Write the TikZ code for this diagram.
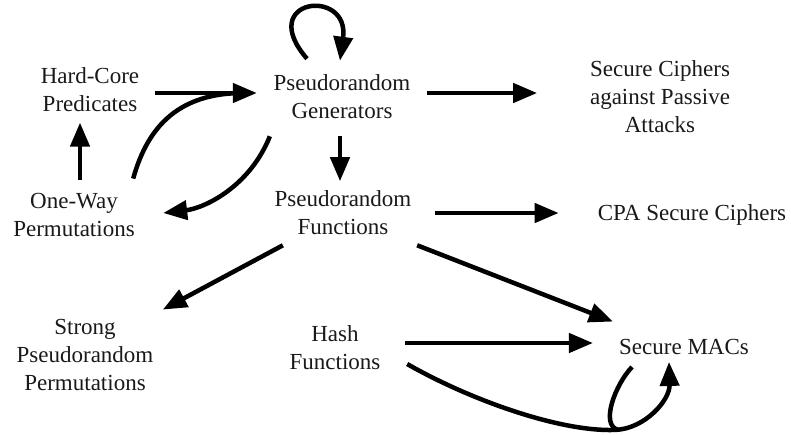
\documentclass[tikz,border=0pt]{standalone}
\usepackage{fontspec}
\setmainfont{Liberation Serif}
\usetikzlibrary{arrows.meta,calc}
\begin{document}
\begin{tikzpicture}[x=1pt,y=-1pt,
  lbl/.style={font=\fontsize{23}{28}\selectfont, align=center, inner sep=0pt, text=black!90},
  conn/.style={line width=4.5pt, -{Triangle[length=24pt,width=19pt]}},
  plain/.style={line width=4.5pt}]
\useasboundingbox (0,0) rectangle (791,434);

\node[lbl] (hc)   at (90,89.3) {Hard-Core\\Predicates};
\node[lbl] (prg)  at (342,97)  {Pseudorandom\\Generators};
\node[lbl] (sc)   at (660,97)  {Secure Ciphers\\against Passive\\Attacks};
\node[lbl] (ow)   at (74,215)  {One-Way\\Permutations};
\node[lbl] (prf)  at (343,213) {Pseudorandom\\Functions};
\node[lbl] (cpa)  at (692,215) {CPA Secure Ciphers};
\node[lbl] (prp)  at (85,355)  {Strong\\Pseudorandom\\Permutations};
\node[lbl] (hash) at (335,348) {Hash\\Functions};
\node[lbl] (mac)  at (684,347) {Secure MACs};

% left cluster
\draw[conn] ($(hc.east)+(16,3.7)$) -- ($(prg.west)+(-16.6,-4)$);
\draw[plain] ($(ow.north east)+(-1.7,-14.5)$) .. controls +(15,-54) and +(-63,0) .. ($(prg.west)+(-30,-4)$);
\draw[conn] ($(ow.north)+(6,-13.5)$) -- ($(hc.south)+(-10,11)$);
\draw[conn] ($(prg.south west)+(-3.6,17)$) .. controls +(-20,50) and +(42,-5) .. ($(ow.east)+(28.3,-2)$);
% self loop on PRG
\draw[conn] ($(prg.north)+(-35,-16)$) .. controls +(-52,-60) and +(10,-74) .. ($(prg.north)+(-2,-14)$);

% middle
\draw[conn] ($(prg.south)+(-2,17)$) -- ($(prf.north)+(-3,-9.5)$);
\draw[conn] ($(prg.east)+(16.6,-4)$) -- ($(sc.west)+(-52.7,-4)$);
\draw[conn] ($(prf.east)+(23.6,0)$) -- ($(cpa.west)+(-39,-2)$);
\draw[conn] ($(prf.south west)+(8.4,10)$) -- ($(prp.north east)+(9.3,-9.5)$);
\draw[conn] ($(prf.south east)+(5.6,10)$) -- ($(mac.north west)+(-6,-17.5)$);

% hash
\draw[conn] ($(hash.east)+(24.6,-5)$) -- ($(mac.west)+(-26,-4)$);
\draw[conn] ($(hash.east)+(26.6,16)$) .. controls +(63,36) and +(-55,2) .. ($(mac.south)+(-69,75)$)
  .. controls +(30,-1) and +(1,38) .. ($(mac.south)+(-15,7)$);
\draw[plain] ($(mac.south)+(-52,12)$) .. controls +(-17,18) and +(-18,-5) .. ($(mac.south)+(-66,75)$);
\end{tikzpicture}
\end{document}
